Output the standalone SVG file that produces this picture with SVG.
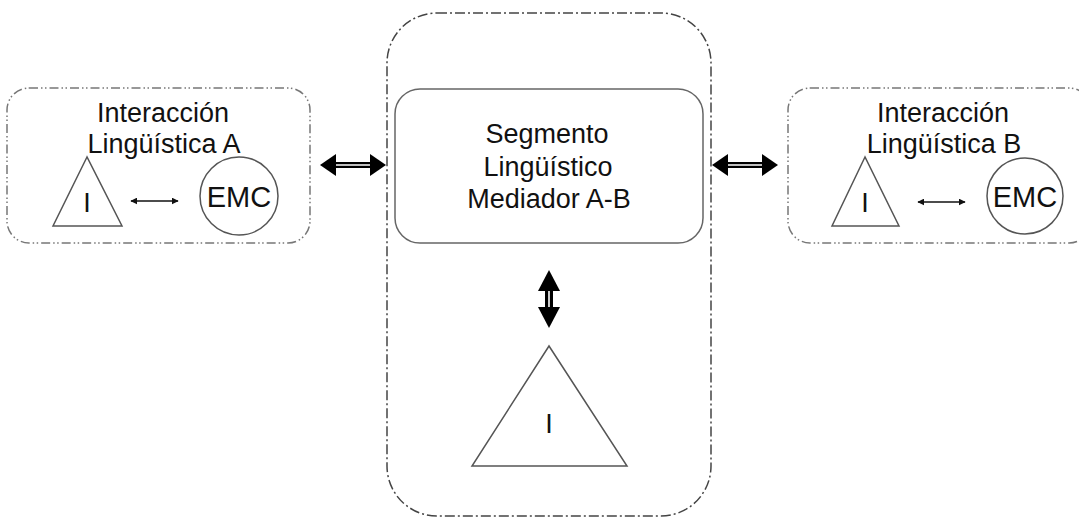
<svg xmlns="http://www.w3.org/2000/svg" width="1079" height="518" viewBox="0 0 1079 518">
<defs>
<style>
.t{font-family:"Liberation Sans",Arial,sans-serif;font-size:27px;fill:#111;text-anchor:middle}
.emc{font-family:"Liberation Sans",Arial,sans-serif;font-size:29px;fill:#111;text-anchor:middle}
.grp{fill:none;stroke:#777;stroke-width:1.5;stroke-dasharray:9 3 1.5 2.5 1.5 3}
.big{fill:none;stroke:#444;stroke-width:1.5;stroke-dasharray:10 3 2 3}
.shape{fill:none;stroke:#555;stroke-width:1.5}
.thin{stroke:#111;stroke-width:1.5;fill:none;marker-start:url(#sa);marker-end:url(#sa)}
</style>
<marker id="sa" viewBox="0 0 10 10" refX="9" refY="5" markerWidth="7" markerHeight="7" markerUnits="userSpaceOnUse" orient="auto-start-reverse">
<path d="M0,0 L10,5 L0,10 z" fill="#111"/>
</marker>
</defs>
<rect width="1079" height="518" fill="#fff"/>

<g id="central">
<rect class="big" x="387" y="13" width="324" height="503" rx="50"/>
</g>

<g id="groupA">
<rect class="grp" x="7" y="88" width="303" height="155" rx="22"/>
<text class="t" x="163" y="122">Interacción</text>
<text class="t" x="164" y="153">Lingüística A</text>
</g>
<g id="triA">
<polygon class="shape" points="87,157 53,226 122,226"/>
<text class="t" x="87" y="212">I</text>
</g>
<g id="emcA">
<circle class="shape" cx="239" cy="196" r="39"/>
<text class="emc" x="239" y="207">EMC</text>
</g>

<g id="groupB">
<rect class="grp" x="788" y="88" width="303" height="155" rx="22"/>
<text class="t" x="943" y="122">Interacción</text>
<text class="t" x="944" y="153">Lingüística B</text>
</g>
<g id="triB">
<polygon class="shape" points="865,157 832,226 899,226"/>
<text class="t" x="865" y="212">I</text>
</g>
<g id="emcB">
<circle class="shape" cx="1025" cy="196" r="38"/>
<text class="emc" x="1025" y="207">EMC</text>
</g>

<g id="segmento">
<rect x="395" y="89" width="308" height="154" rx="25" fill="#fff" stroke="#666" stroke-width="1.5"/>
<text class="t" x="547" y="143">Segmento</text>
<text class="t" x="548" y="176">Lingüístico</text>
<text class="t" x="549" y="208">Mediador A-B</text>
</g>

<g id="triCentral">
<polygon class="shape" points="549,346 472,466 627,466"/>
<text class="t" x="549" y="433">I</text>
</g>

<g id="connectors">
<line class="thin" x1="131" y1="201" x2="178" y2="201"/>
<line class="thin" x1="918" y1="202" x2="965" y2="202"/>
<g>
<rect x="334" y="162" width="38" height="6" fill="#000"/>
<line x1="334" y1="165" x2="372" y2="165" stroke="#fff" stroke-width="1.6"/>
<polygon points="320,165 336,154 336,176" fill="#000"/>
<polygon points="386,165 370,154 370,176" fill="#000"/>
</g>
<g>
<rect x="726" y="162" width="38" height="6" fill="#000"/>
<line x1="726" y1="165" x2="764" y2="165" stroke="#fff" stroke-width="1.6"/>
<polygon points="712,165 728,154 728,176" fill="#000"/>
<polygon points="778,165 762,154 762,176" fill="#000"/>
</g>
<g>
<rect x="545" y="289" width="8" height="20" fill="#000"/>
<line x1="549" y1="289" x2="549" y2="309" stroke="#fff" stroke-width="1.6"/>
<polygon points="549,270 538,291 560,291" fill="#000"/>
<polygon points="549,328 538,307 560,307" fill="#000"/>
</g>
</g>
</svg>
